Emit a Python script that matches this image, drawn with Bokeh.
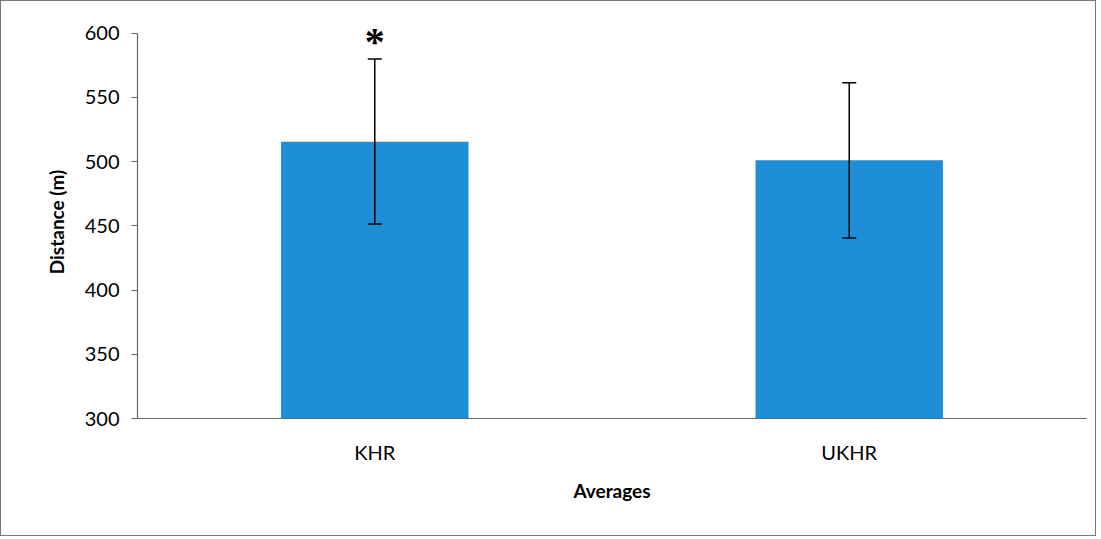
from bokeh.plotting import figure
from bokeh.models import ColumnDataSource, Whisker, Range1d, FixedTicker, LabelSet
from bokeh.embed import file_html
from bokeh.resources import INLINE

categories = ["KHR", "UKHR"]
means = [515.5, 501.0]
err_low = [451.5, 440.5]
err_high = [580.0, 561.5]
marks = ["*", ""]
y_ticks = [300, 350, 400, 450, 500, 550, 600]

src = ColumnDataSource(dict(cat=categories, mean=means, lo=err_low, hi=err_high, mark=marks))

FONT = "Lato"

p = figure(x_range=categories, y_range=Range1d(300, 606), width=1096, height=536,
           output_backend="svg", toolbar_location=None,
           min_border_left=136, min_border_right=11, min_border_top=24, min_border_bottom=119)
p.styles = {"border": "1.5px solid #777"}

p.vbar(x="cat", top="mean", bottom=300, width=0.395, source=src,
       fill_color="#1E8ED6", line_color=None)

w = Whisker(base="cat", lower="lo", upper="hi", source=src, line_color="black", line_width=1.5,
            level="overlay")
w.upper_head.size = 14
w.lower_head.size = 14
w.upper_head.line_width = 1.5
w.lower_head.line_width = 1.5
p.add_layout(w)

stars = LabelSet(x="cat", y="hi", text="mark", source=src, text_align="center",
                 text_baseline="middle", y_offset=17, text_font="DejaVu Sans",
                 text_font_size="40px", text_color="black", text_font_style="bold",
                 level="overlay")
p.add_layout(stars)

p.xgrid.visible = False
p.ygrid.visible = False
p.outline_line_color = None
p.background_fill_color = "white"

p.yaxis.ticker = FixedTicker(ticks=y_ticks)
p.yaxis.bounds = (300, 600)
p.yaxis.axis_label = "Distance (m)"
p.xaxis.axis_label = "Averages"
for ax in (p.xaxis[0], p.yaxis[0]):
    ax.axis_label_text_font = FONT
    ax.axis_label_text_font_style = "bold"
    ax.axis_label_text_font_size = "19px"
    ax.axis_label_text_color = "black"
    ax.major_label_text_font = FONT
    ax.major_label_text_font_size = "20px"
    ax.major_label_text_color = "black"
    ax.axis_line_color = "#666666"
    ax.axis_line_width = 1.2
    ax.minor_tick_line_color = None

p.yaxis.major_tick_in = 0
p.yaxis.major_tick_out = 6
p.yaxis.major_tick_line_color = "#666666"
p.yaxis.major_label_standoff = 12
p.yaxis.axis_label_standoff = 14

p.xaxis.major_tick_line_color = None
p.xaxis.major_label_standoff = 15
p.xaxis.axis_label_standoff = 12

open("out.html", "w").write(file_html(p, INLINE))
